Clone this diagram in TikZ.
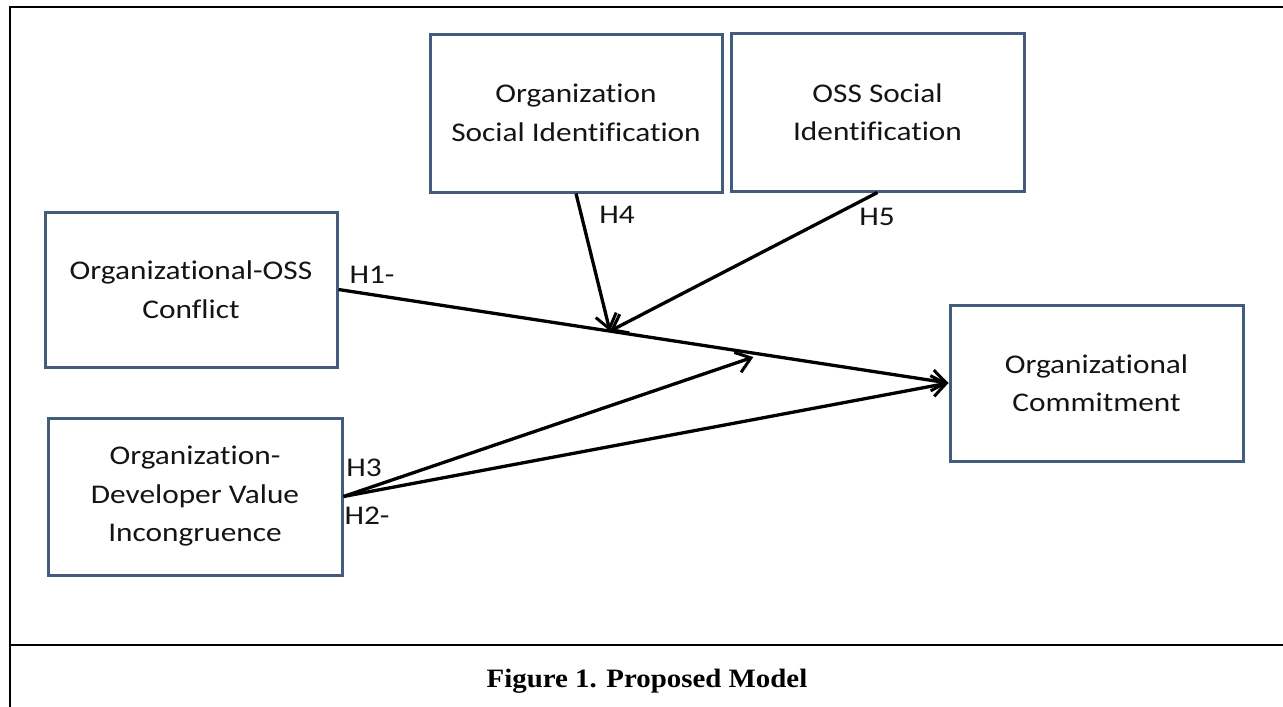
\documentclass[tikz,border=0pt]{standalone}
\usepackage{fontspec}
\usetikzlibrary{arrows.meta,calc}
\newfontfamily\boxfont[FakeStretch=1.16,Ligatures=NoCommon]{Carlito}
\newfontfamily\capfont[FakeStretch=1.09]{Liberation Serif}
\definecolor{boxblue}{RGB}{68,92,124}
\definecolor{ink}{RGB}{20,20,20}
\tikzset{
  construct/.style={draw=boxblue, line width=3pt, fill=white, minimum width=292pt, minimum height=157pt,
    align=center, text=ink, inner sep=0pt, font=\boxfont\fontsize{27}{38.5}\selectfont},
  hlabel/.style={text=ink, inner sep=0pt, font=\boxfont\fontsize{27}{30}\selectfont},
  path/.style={line width=3.3pt, draw=black, -{Straight Barb[length=14pt,width=21pt,line width=3pt]}},
  frame/.style={line width=2.2pt, draw=black}
}
\begin{document}
\begin{tikzpicture}[x=1pt,y=-1pt]
\useasboundingbox (0,0) rectangle (1283,707);
\fill[white] (0,0) rectangle (1283,707);
% frame
\coordinate (tl) at (10,7);
\coordinate (tr) at (1283,7);
\coordinate (bl) at (10,707);
\coordinate (ml) at (10,645);
\coordinate (mr) at (1283,645);
\draw[frame] (bl) -- (tl) -- (tr);
\draw[frame] (ml) -- (mr);
% constructs
\node[construct, minimum height=158pt] (osi) at (576,113) {Organization\\Social Identification};
\node[construct, minimum width=293pt, minimum height=158pt] (ossi) at (877.5,112) {OSS Social\\Identification};
\node[construct, minimum height=155pt] (conf) at (191,289.5) {Organizational-OSS\\Conflict};
\node[construct, minimum width=294pt] (ovi) at (195,496.5) {Organization-\\Developer Value\\Incongruence};
\node[construct, minimum width=293pt, minimum height=156pt] (com) at (1096.5,383) {Organizational\\Commitment};
% junction points
\coordinate (j1) at ($(conf.east)!0.445!(com.west)$);
\coordinate (j2) at ($(conf.east)!0.68!(com.west)+(0,4)$);
% connectors
\draw[path] (conf.east) -- (com.west);
\draw[path] (ovi.east) -- (com.west);
\draw[path] (ovi.east) -- (j2);
\draw[path] (osi.south) -- (j1);
\draw[path] (ossi.south) -- (j1);
% labels
\node[hlabel] (h1) at (372,275) {H1-};
\node[hlabel] (h4) at (617,215) {H4};
\node[hlabel] (h5) at (877,217) {H5};
\node[hlabel] (h3) at (364,468) {H3};
\node[hlabel] (h2) at (367,516) {H2-};
% caption
\node[text=black, inner sep=0pt, font=\capfont\bfseries\fontsize{26.5}{30}\selectfont] (cap) at (647,681) {Figure 1. Proposed Model};
\end{tikzpicture}
\end{document}
